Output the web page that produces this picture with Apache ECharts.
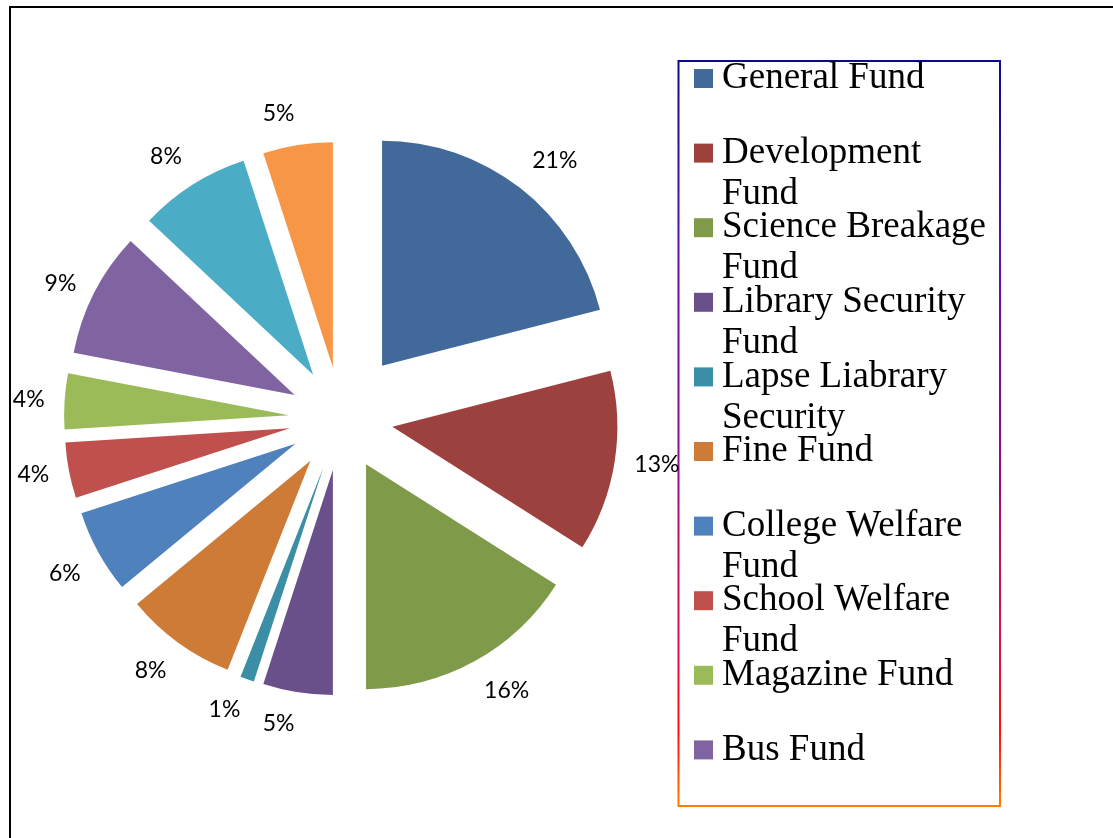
<!DOCTYPE html>
<html>
<head>
<meta charset="utf-8">
<script src="https://cdn.jsdelivr.net/npm/echarts@6/dist/echarts.min.js"></script>
<style>
  html, body { margin: 0; padding: 0; background: #fff; }
  #chart { width: 1113px; height: 838px; }
</style>
</head>
<body>
<div id="chart"></div>
<script>
// slices, clockwise from 12 o'clock
var fundNames = ['General Fund', 'Development Fund', 'Science Breakage Fund', 'Library Security Fund',
    'Lapse Liabrary Security', 'Fine Fund', 'College Welfare Fund', 'School Welfare Fund',
    'Magazine Fund', 'Bus Fund', 'Fund 11', 'Fund 12'];
var fundShares = [21, 13, 16, 5, 1, 8, 6, 4, 4, 9, 8, 5];
var fundColors = ['#416A9B', '#9D413E', '#7F9A48', '#69508A', '#3A8EA5', '#CD7B37',
    '#4F81BD', '#C0504D', '#9BBB59', '#8064A2', '#4BACC6', '#F79646'];
// legend only shows the first ten, wrapped like the original
var legendLines = ['General Fund', 'Development\nFund', 'Science Breakage\nFund', 'Library Security\nFund',
    'Lapse Liabrary\nSecurity', 'Fine Fund', 'College Welfare\nFund', 'School Welfare\nFund',
    'Magazine Fund', 'Bus Fund'];

var LINE_H = 41;
var TEXT_PAD = 5;
var ITEM_STEP = 74.6;

var myChart = echarts.init(document.getElementById('chart'));

// vertical direction of each slice's middle (screen y, +down), used to hang labels like excel does
var total = fundShares.reduce(function (a, b) { return a + b; }, 0);
var cum = 0;
var midDy = fundShares.map(function (s) {
    var mid = (cum + s / 2) / total * Math.PI * 2;
    cum += s;
    return -Math.cos(mid);
});

function pieData(bigOne) {
    return fundNames.map(function (name, i) {
        var show = bigOne ? i === 0 : i !== 0;
        return {
            name: name,
            value: fundShares[i],
            selected: show,
            itemStyle: { color: show ? fundColors[i] : 'rgba(0,0,0,0)' },
            label: { show: show }
        };
    });
}

var pieBase = {
    type: 'pie',
    center: [341, 418.6],
    radius: 225,
    startAngle: 90,
    clockwise: true,
    silent: true,
    selectedMode: 'multiple',
    avoidLabelOverlap: false,
    emphasis: { disabled: true },
    label: {
        position: 'outside',
        distanceToLabelLine: 0,
        fontFamily: 'Lato',
        fontSize: 23,
        color: '#000',
        formatter: function (p) { return Math.round(p.percent) + '%'; }
    },
    labelLine: { show: false, length: 20, length2: 0 },
    labelLayout: function (p) {
        var dy = midDy[p.dataIndex];
        return { verticalAlign: dy > 0.47 ? 'top' : (dy < -0.47 ? 'bottom' : 'middle') };
    }
};

var option = {
    animation: false,
    backgroundColor: '#fff',
    legend: {
        orient: 'vertical',
        left: 694,
        top: 17 - TEXT_PAD / 2,
        height: 820,
        padding: 0,
        icon: 'rect',
        itemWidth: 19,
        itemHeight: 19,
        itemGap: ITEM_STEP - 3 * LINE_H - TEXT_PAD,
        selectedMode: false,
        data: legendLines.map(function (l, i) {
            return { name: fundNames[i], itemStyle: { color: fundColors[i] } };
        }),
        formatter: function (name) {
            var parts = legendLines[fundNames.indexOf(name)].split('\n');
            return '\n' + parts[0] + '\n' + (parts[1] || '');
        },
        textStyle: {
            fontFamily: 'Liberation Serif',
            fontSize: 37,
            lineHeight: LINE_H,
            color: '#000',
            padding: [TEXT_PAD, 0, 0, 4]
        }
    },
    graphic: [
        {
            type: 'rect',
            silent: true,
            shape: { x: 10, y: 7, width: 1200, height: 900 },
            style: { fill: 'none', stroke: '#000', lineWidth: 2 }
        },
        {
            type: 'rect',
            silent: true,
            shape: { x: 678.5, y: 61, width: 321.5, height: 745 },
            style: {
                fill: 'none',
                lineWidth: 2,
                stroke: new echarts.graphic.LinearGradient(0, 0, 0, 1, [
                    { offset: 0, color: '#0A0A8C' },
                    { offset: 0.25, color: '#5A10B0' },
                    { offset: 0.5, color: '#8C0A8C' },
                    { offset: 0.78, color: '#E0104A' },
                    { offset: 0.9, color: '#FF1010' },
                    { offset: 1, color: '#FF8000' }
                ])
            }
        }
    ],
    series: [
        Object.assign({}, pieBase, { selectedOffset: 52, data: pieData(false) }),
        Object.assign({}, pieBase, { selectedOffset: 67, data: pieData(true) })
    ]
};

myChart.setOption(option);
</script>
</body>
</html>
